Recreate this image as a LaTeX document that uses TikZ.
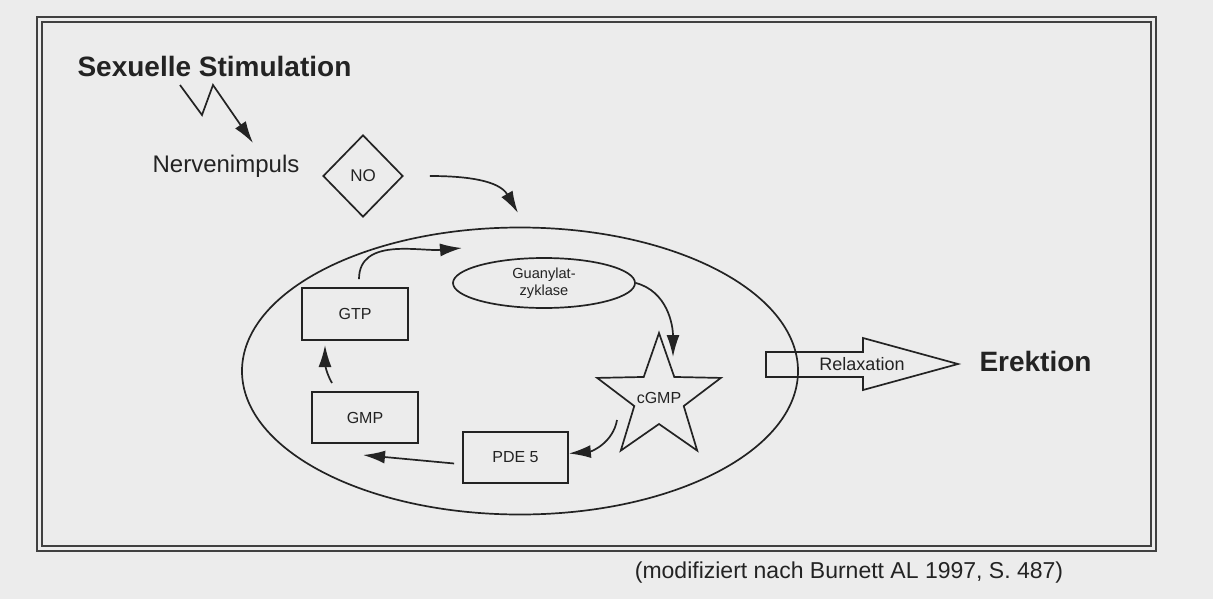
\documentclass[tikz,border=0pt]{standalone}
\usepackage{fontspec}
\setmainfont{Liberation Sans}
\usetikzlibrary{shapes.geometric,arrows.meta}
\definecolor{paper}{RGB}{236,236,236}
\definecolor{ink}{RGB}{35,35,35}

\begin{document}
\begin{tikzpicture}[x=0.5pt, y=0.5pt, line width=0.85pt, color=ink,
    every node/.style = {font=\fontsize{8}{9.6}\selectfont, text=ink},
    box/.style = {draw, rectangle, minimum width=53pt, minimum height=25.5pt, inner sep=0pt},
    flow/.style = {-{Latex[length=11pt,width=6.5pt]}},
    title/.style = {font=\bfseries\fontsize{14}{16}\selectfont}]
  \fill[paper] (0,0) rectangle (1213,-599);
  \useasboundingbox (0,0) rectangle (1213,-599);
  % frame
  \draw[gray!50!black, line width=1.3pt] (37,-17) rectangle (1156,-551);
  \draw[gray!50!black, line width=0.6pt] (42,-22) rectangle (1151,-546);

  \node[title, anchor=west] (stim) at (70,-66) {Sexuelle Stimulation};
  \node[font=\fontsize{12}{14}\selectfont] (nerv) at (226,-166) {Nervenimpuls};
  \node[draw, diamond, minimum width=40pt, minimum height=41pt, inner sep=0pt,
        font=\fontsize{8.5}{10}\selectfont] (no) at (363,-176) {NO};

  \node[draw, ellipse, minimum width=278pt, minimum height=143.5pt] (cell) at (520,-371) {};
  \node[draw, ellipse, minimum width=91pt, minimum height=25pt, inner sep=0pt, align=center,
        font=\fontsize{7.3}{8.4}\selectfont] (gc) at (544,-283) {Guanylat-\\zyklase};
  \node[box, minimum height=26pt] (gtp) at (355,-314) {GTP};
  \node[box] (gmp) at (365,-417.5) {GMP};
  \node[box, minimum width=52.5pt] (pde) at (515.5,-457.5) {PDE 5};
  \node[draw, star, star points=5, star point ratio=2.5, minimum size=65pt, inner sep=0pt,
        label=center:cGMP] (cgmp) at (659,-398) {};

  \node[font=\fontsize{9}{11}\selectfont] (relax) at (862,-364) {Relaxation};
  \draw (766,-352) -- (863,-352) -- (863,-338) -- (958,-364) -- (863,-390) -- (863,-377) -- (766,-377) -- cycle;
  \node[title, anchor=west] (erek) at (972,-361) {Erektion};

  \node[font=\fontsize{11.5}{14}\selectfont] (src) at (849,-573) {(modifiziert nach Burnett AL 1997, S. 487)};

  % free ends
  \coordinate (bolt) at (180,-85);
  \coordinate (bolt1) at (202,-115);
  \coordinate (bolt2) at (213,-85);
  \coordinate (bolt-end) at (253,-143);
  \coordinate (cell-in) at (518,-213);
  \coordinate (gc-in) at (462,-248);
  \coordinate (cgmp-in) at (673,-357);
  \coordinate (cgmp-out) at (617,-420);
  \coordinate (gmp-in) at (363,-455);
  \coordinate (gmp-out) at (332,-383);
  \coordinate (gtp-in) at (325,-345);

  % arrows
  \draw[flow] (bolt) -- (bolt1) -- (bolt2) -- (bolt-end);
  \draw[flow] ([xshift=13pt]no.east) to[out=0,in=120] (cell-in);
  \draw[flow] ([xshift=2pt,yshift=4pt]gtp.north) to[out=90,in=185] (gc-in);
  \draw[flow] (gc.east) to[out=-15,in=90] (cgmp-in);
  \draw[flow] (cgmp-out) to[out=-100,in=5] ([yshift=2pt]pde.east);
  \draw[flow] ([xshift=-4pt,yshift=-3pt]pde.west) -- (gmp-in);
  \draw[flow] (gmp-out) to[out=120,in=-90] (gtp-in);
\end{tikzpicture}
\end{document}
